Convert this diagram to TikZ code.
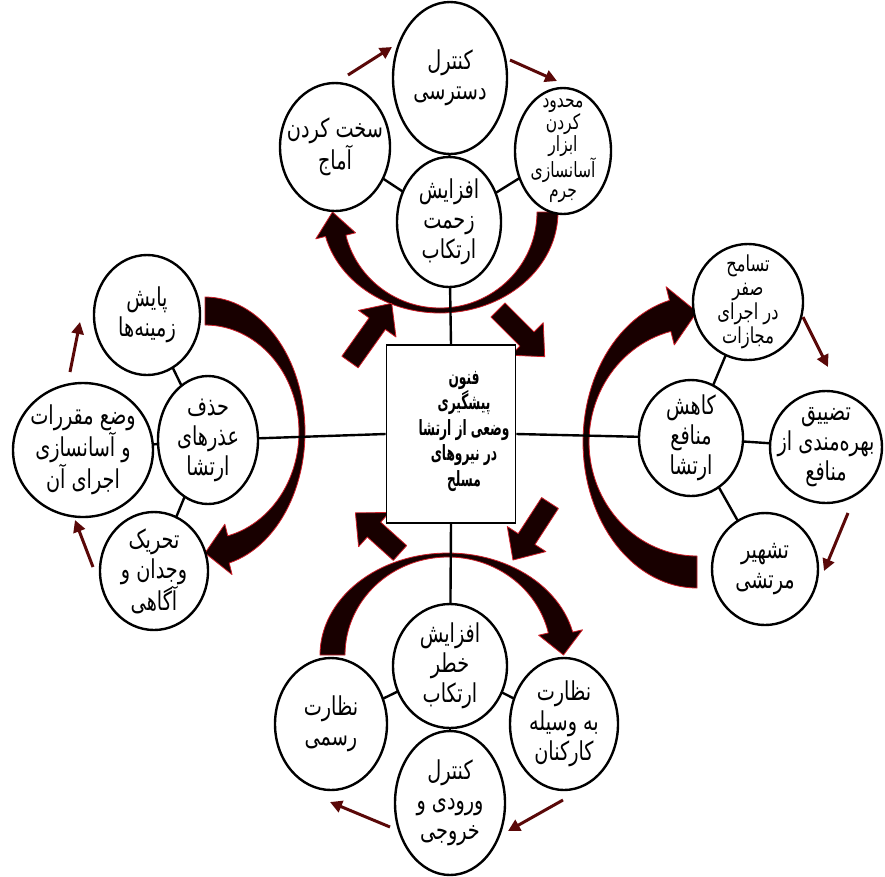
\documentclass[tikz,border=0pt]{standalone}
\usepackage{fontspec}
\usetikzlibrary{shapes.geometric,arrows.meta,calc}
\newfontfamily\fafont[Script=Arabic,FakeStretch=0.74]{DejaVu Sans}
\newfontfamily\fabold[Script=Arabic,FakeStretch=0.58]{DejaVu Sans Bold}
\TeXXeTstate=1
\newcommand\fa[1]{\beginR#1\endR}
\definecolor{arrfill}{RGB}{24,0,0}
\definecolor{arredge}{RGB}{205,30,40}
\definecolor{smallarrc}{RGB}{90,8,8}
\newcommand\blockarrow[4]{%
  \begin{scope}[shift={(#1,#2)},rotate={-(#3)}]
    \path[bigarr] (0,-10) -- ({#4-25},-10) -- ({#4-25},-23) -- (#4,0) -- ({#4-25},23) -- ({#4-25},10) -- (0,10) -- cycle;
  \end{scope}}
\begin{document}
\begin{tikzpicture}[x=1pt,y=-1pt,
  ell/.style={ellipse,draw,line width=2.4pt,fill=white,inner sep=-22pt,outer sep=0pt,align=center,
    font=\fafont\fontsize{26}{30}\selectfont},
  conn/.style={line width=2.4pt},
  bigarr/.style={fill=arrfill,draw=arredge,line width=0.8pt,line join=round},
  smallarr/.style={draw=smallarrc,line width=3pt,-{Triangle[length=12pt,width=12pt]}},
  boxstyle/.style={draw,line width=1.8pt,fill=white,minimum width=129pt,minimum height=178pt,inner sep=0pt},
  boxtext/.style={align=center,font=\fabold\fontsize{21}{25.5}\selectfont}
]
\useasboundingbox (0,0) rectangle (885,876);

% ---- big curved arrows ----
% top group
\path[bigarr] plot[domain=0:166,samples=60] ({440+118*cos(\x)},{212+101*sin(\x)})
  -- ({440+128*cos(166)},{212+111*sin(166)})
  -- ({440+107.5*cos(180)},{212+98.5*sin(180)})
  -- ({440+87*cos(166)},{212+86*sin(166)})
  -- plot[domain=166:0,samples=60] ({440+97*cos(\x)},{212+96*sin(\x)}) -- cycle;
% left group
\path[bigarr] plot[domain=270:436,samples=60] ({205+100*cos(\x)},{432+135*sin(\x)})
  -- ({205+112*cos(436)},{432+147*sin(436)})
  -- ({205+97*cos(450)},{432+121*sin(450)})
  -- ({205+82*cos(436)},{432+95*sin(436)})
  -- plot[domain=436:270,samples=60] ({205+94*cos(\x)},{432+107*sin(\x)}) -- cycle;
% right group
\path[bigarr] plot[domain=90:256,samples=60] ({697+114*cos(\x)},{442+146*sin(\x)})
  -- ({697+128*cos(256)},{442+160*sin(256)})
  -- ({697+111*cos(270)},{442+130*sin(270)})
  -- ({697+94*cos(256)},{442+100*sin(256)})
  -- plot[domain=256:90,samples=60] ({697+108*cos(\x)},{442+114*sin(\x)}) -- cycle;
% bottom group
\path[bigarr] plot[domain=180:347,samples=60] ({448+128*cos(\x)},{655+102*sin(\x)})
  -- ({448+138*cos(347)},{655+112*sin(347)})
  -- ({448+115.5*cos(360)},{655+100*sin(360)})
  -- ({448+93*cos(347)},{655+88*sin(347)})
  -- plot[domain=347:180,samples=60] ({448+103*cos(\x)},{655+98*sin(\x)}) -- cycle;

% ---- block arrows round the box ----
\blockarrow{350}{362}{-54.6}{72}
\blockarrow{498}{310}{45}{66}
\blockarrow{550}{503}{123}{68}
\blockarrow{400}{553}{222}{60}

% ---- central box ----
\node[boxstyle] (box) at (451,434) {};
\node[boxtext] (title) at (464,431) {\fa{فنون}\\\fa{پیشگیری}\\\fa{وضعی از ارتشا}\\\fa{در نیروهای}\\\fa{مسلح}};

% ---- top group ----
\node[ell,minimum width=114pt,minimum height=152pt] (k1) at (450,78) {\fa{کنترل}\\\fa{دسترسی}};
\node[ell,minimum width=110pt,minimum height=128pt] (sakht) at (335,147) {\fa{سخت کردن}\\\fa{آماج}};
\node[ell,minimum width=96pt,minimum height=126pt,font=\fafont\fontsize{21}{20}\selectfont] (mahdud) at (563,151) {\fa{محدود}\\\fa{کردن}\\\fa{ابزار}\\\fa{آسانسازی}\\\fa{جرم}};
\node[ell,minimum width=104pt,minimum height=130pt] (zahmat) at (449,222) {\fa{افزایش}\\\fa{زحمت}\\\fa{ارتکاب}};

% ---- left group ----
\node[ell,minimum width=106pt,minimum height=120pt] (payesh) at (147,315) {\fa{پایش}\\\fa{زمینه‌ها}};
\node[ell,minimum width=140pt,minimum height=134pt] (vaz) at (83,450) {\fa{وضع مقررات}\\\fa{و آسانسازی}\\\fa{اجرای آن}};
\node[ell,minimum width=100pt,minimum height=128pt] (hazf) at (208,440) {\fa{حذف}\\\fa{عذرهای}\\\fa{ارتشا}};
\node[ell,minimum width=108pt,minimum height=118pt] (tahrik) at (154,571) {\fa{تحریک}\\\fa{وجدان و}\\\fa{آگاهی}};

% ---- right group ----
\node[ell,minimum width=110pt,minimum height=116pt,font=\fafont\fontsize{22}{24}\selectfont] (tasamoh) at (748,302) {\fa{تسامح}\\\fa{صفر}\\\fa{در اجرای}\\\fa{مجازات}};
\node[ell,minimum width=104pt,minimum height=116pt] (kahesh) at (691,438) {\fa{کاهش}\\\fa{منافع}\\\fa{ارتشا}};
\node[ell,minimum width=112pt,minimum height=112pt] (tazyigh) at (826,447) {\fa{تضییق}\\\fa{بهره‌مندی از}\\\fa{منافع}};
\node[ell,minimum width=106pt,minimum height=112pt] (tashhir) at (765,569) {\fa{تشهیر}\\\fa{مرتشی}};

% ---- bottom group ----
\node[ell,minimum width=114pt,minimum height=124pt] (khatar) at (450,666) {\fa{افزایش}\\\fa{خطر}\\\fa{ارتکاب}};
\node[ell,minimum width=112pt,minimum height=132pt] (rasmi) at (331,724) {\fa{نظارت}\\\fa{رسمی}};
\node[ell,minimum width=108pt,minimum height=132pt] (karkonan) at (564,724) {\fa{نظارت}\\\fa{به وسیله}\\\fa{کارکنان}};
\node[ell,minimum width=110pt,minimum height=144pt] (vorudi) at (450,803) {\fa{کنترل}\\\fa{ورودی و}\\\fa{خروجی}};

% ---- connectors ----
\draw[conn] (box.north) -- (zahmat);
\draw[conn] (box.west) -- (hazf);
\draw[conn] (box.east) -- (kahesh);
\draw[conn] (box.south) -- (khatar);
\draw[conn] (zahmat) -- (k1);
\draw[conn] (zahmat) -- (sakht);
\draw[conn] (zahmat) -- (mahdud);
\draw[conn] (hazf) -- (payesh);
\draw[conn] (hazf) -- (vaz);
\draw[conn] (hazf) -- (tahrik);
\draw[conn] (kahesh) -- (tasamoh);
\draw[conn] (kahesh) -- (tazyigh);
\draw[conn] (kahesh) -- (tashhir);
\draw[conn] (khatar) -- (rasmi);
\draw[conn] (khatar) -- (karkonan);
\draw[conn] (khatar) -- (vorudi);

% ---- small cycle arrows ----
\coordinate (t1a) at (348,75);  \coordinate (t1b) at (392,47);
\coordinate (t2a) at (510,60);  \coordinate (t2b) at (557,81);
\coordinate (l1a) at (70,372);  \coordinate (l1b) at (80,322);
\coordinate (l2a) at (93,567);  \coordinate (l2b) at (75,520);
\coordinate (r1a) at (803,317); \coordinate (r1b) at (828,367);
\coordinate (r2a) at (848,513); \coordinate (r2b) at (824,571);
\coordinate (b1a) at (390,827); \coordinate (b1b) at (330,802);
\coordinate (b2a) at (563,800); \coordinate (b2b) at (508,831);
\draw[smallarr] (t1a) -- (t1b);
\draw[smallarr] (t2a) -- (t2b);
\draw[smallarr] (l1a) -- (l1b);
\draw[smallarr] (l2a) -- (l2b);
\draw[smallarr] (r1a) -- (r1b);
\draw[smallarr] (r2a) -- (r2b);
\draw[smallarr] (b1a) -- (b1b);
\draw[smallarr] (b2a) -- (b2b);
\end{tikzpicture}
\end{document}
